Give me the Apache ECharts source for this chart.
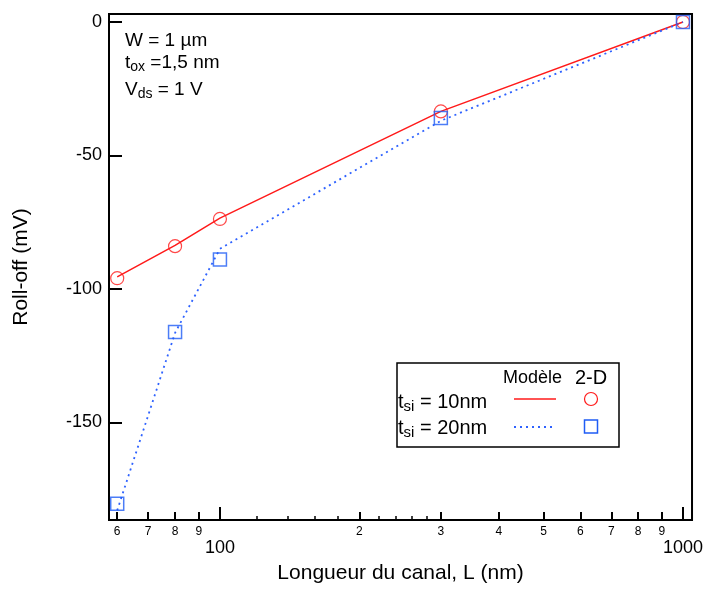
<!DOCTYPE html>
<html>
<head>
<meta charset="utf-8">
<script src="https://cdn.jsdelivr.net/npm/echarts@6/dist/echarts.min.js"></script>
<style>
html,body{margin:0;padding:0;background:#fff;}
#chart{width:706px;height:589px;}
</style>
</head>
<body>
<div id="chart"></div>
<script>
// ---- data ----
var lengths = [60, 80, 100, 300, 1000];
var model10 = [-95.5, -83.7, -73.5, -33.5, 0];
var model20 = [-183, -116.5, -85, -37, 0];
var sim10 = [-96, -84, -73.8, -33.5, 0];
var sim20 = [-180.5, -116.2, -89, -36, 0];
// tick values (nm)
var labeledMinorTicks = [60, 70, 80, 90, 200, 300, 400, 500, 600, 700, 800, 900];
var smallTicks = [120, 140, 160, 180, 220, 240, 260, 280];
var majorTicks = [100, 1000];
var yTicks = [0, -50, -100, -150];

var xMin = 57.6, xMax = 1046;
var yMin = -186.6, yMax = 3;

var FONT = 'Liberation Sans, Arial, sans-serif';
var lg = function (v) { return Math.log10(v); };
function pairs(ys) { return lengths.map(function (x, i) { return [x, ys[i]]; }); }

var chart = echarts.init(document.getElementById('chart'), null, {renderer: 'canvas'});

var tickAxisBase = {
  type: 'value', position: 'bottom',
  min: lg(xMin), max: lg(xMax),
  axisLine: {show: false}, splitLine: {show: false}
};

var option = {
  backgroundColor: '#fff',
  animation: false,
  grid: {left: 109, top: 14, right: 13, bottom: 64, show: true,
         borderColor: '#000', borderWidth: 2, backgroundColor: 'transparent'},
  xAxis: [
    { // data axis (log)
      type: 'log', logBase: 10, min: xMin, max: xMax, position: 'bottom',
      axisLine: {show: false}, axisTick: {show: false}, axisLabel: {show: false},
      splitLine: {show: false},
      name: 'Longueur du canal, L (nm)', nameLocation: 'middle', nameGap: 43,
      nameTextStyle: {fontFamily: FONT, fontSize: 21, color: '#000'}
    },
    Object.assign({}, tickAxisBase, { // labeled minor ticks
      axisTick: {show: true, inside: true, length: 8, lineStyle: {color: '#000', width: 2},
                 customValues: labeledMinorTicks.map(lg)},
      axisLabel: {show: true, margin: 6, fontFamily: FONT, fontSize: 12, color: '#000',
                  customValues: labeledMinorTicks.map(lg),
                  formatter: function (v) {
                    var n = Math.pow(10, v);
                    return String(Math.round(n / Math.pow(10, Math.floor(v + 1e-9))));
                  }}
    }),
    Object.assign({}, tickAxisBase, { // small unlabeled ticks
      axisTick: {show: true, inside: true, length: 4, lineStyle: {color: '#000', width: 1.5},
                 customValues: smallTicks.map(lg)},
      axisLabel: {show: false}
    }),
    Object.assign({}, tickAxisBase, { // decade ticks
      axisTick: {show: true, inside: true, length: 13, lineStyle: {color: '#000', width: 2},
                 customValues: majorTicks.map(lg)},
      axisLabel: {show: true, margin: 19, fontFamily: FONT, fontSize: 18, color: '#000',
                  customValues: majorTicks.map(lg),
                  formatter: function (v) { return String(Math.round(Math.pow(10, v))); }}
    })
  ],
  yAxis: {
    type: 'value', min: yMin, max: yMax,
    axisLine: {show: false},
    axisTick: {show: true, inside: true, length: 13, lineStyle: {color: '#000', width: 2},
               customValues: yTicks},
    axisLabel: {show: true, margin: 7, fontFamily: FONT, fontSize: 18, color: '#000',
                customValues: yTicks},
    splitLine: {show: false},
    name: 'Roll-off (mV)', nameLocation: 'middle', nameGap: 77, nameRotate: 90,
    nameTextStyle: {fontFamily: FONT, fontSize: 21, color: '#000'}
  },
  series: [
    {type: 'line', name: 'model10', xAxisIndex: 0, data: pairs(model10), showSymbol: false,
     lineStyle: {color: '#ff1a1a', width: 1.5, type: 'solid'}, z: 2},
    {type: 'line', name: 'model20', xAxisIndex: 0, data: pairs(model20), showSymbol: false,
     lineStyle: {color: '#2e62ff', width: 1.8, type: [2, 4]}, z: 2},
    {type: 'scatter', name: 'sim10', xAxisIndex: 0, data: pairs(sim10), symbol: 'circle', symbolSize: 13,
     itemStyle: {color: 'rgba(0,0,0,0)', borderColor: '#ff1a1a', borderWidth: 1.2}, z: 3},
    {type: 'scatter', name: 'sim20', xAxisIndex: 0, data: pairs(sim20), symbol: 'rect', symbolSize: 13,
     itemStyle: {color: 'rgba(0,0,0,0)', borderColor: '#1f5cf5', borderWidth: 1.5}, z: 3}
  ],
  graphic: [
    // annotations
    {type: 'text', left: 125, top: 31, style: {text: 'W = 1 µm', font: '19px ' + FONT, fill: '#000'}},
    {type: 'text', left: 125, top: 53, style: {
      text: 't{sub|ox} =1,5 nm', font: '19px ' + FONT, fill: '#000',
      rich: {sub: {fontSize: 14, fontFamily: FONT, padding: [9, 0, 0, 0], fill: '#000'}}}},
    {type: 'text', left: 125, top: 80, style: {
      text: 'V{sub|ds} = 1 V', font: '19px ' + FONT, fill: '#000',
      rich: {sub: {fontSize: 14, fontFamily: FONT, padding: [9, 0, 0, 0], fill: '#000'}}}},
    // legend box
    {type: 'rect', shape: {x: 397, y: 363, width: 222, height: 84},
     style: {fill: '#fff', stroke: '#000', lineWidth: 1.5}, z: 10},
    {type: 'text', left: 503, top: 369, z: 11, style: {text: 'Modèle', font: '18px ' + FONT, fill: '#000'}},
    {type: 'text', left: 575, top: 368, z: 11, style: {text: '2-D', font: '20px ' + FONT, fill: '#000'}},
    {type: 'text', left: 398, top: 392, z: 11, style: {
      text: 't{sub|si} = 10nm', font: '20px ' + FONT, fill: '#000',
      rich: {sub: {fontSize: 15, fontFamily: FONT, padding: [9, 0, 0, 0], fill: '#000'}}}},
    {type: 'text', left: 398, top: 418, z: 11, style: {
      text: 't{sub|si} = 20nm', font: '20px ' + FONT, fill: '#000',
      rich: {sub: {fontSize: 15, fontFamily: FONT, padding: [9, 0, 0, 0], fill: '#000'}}}},
    {type: 'line', z: 11, shape: {x1: 514, y1: 399, x2: 556, y2: 399},
     style: {stroke: '#ff1a1a', lineWidth: 1.5}},
    {type: 'circle', z: 11, shape: {cx: 591, cy: 399, r: 6.5},
     style: {fill: 'none', stroke: '#ff1a1a', lineWidth: 1.2}},
    {type: 'line', z: 11, shape: {x1: 514, y1: 427, x2: 553, y2: 427},
     style: {stroke: '#2e62ff', lineWidth: 1.8, lineDash: [2, 4]}},
    {type: 'rect', z: 11, shape: {x: 584.5, y: 420, width: 13, height: 13},
     style: {fill: 'none', stroke: '#1f5cf5', lineWidth: 1.5}}
  ]
};
chart.setOption(option);
</script>
</body>
</html>
